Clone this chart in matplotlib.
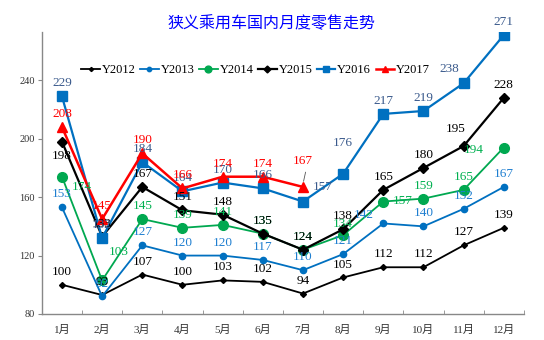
import matplotlib
matplotlib.use("Agg")
import matplotlib.pyplot as plt

months = ["1月", "2月", "3月", "4月", "5月", "6月", "7月", "8月", "9月", "10月", "11月", "12月"]
y2012 = [100, 93, 107, 100, 103, 102, 94, 105, 112, 112, 127, 139]
y2013 = [153, 92, 127, 120, 120, 117, 110, 121, 142, 140, 152, 167]
y2014 = [174, 103, 145, 139, 141, 135, 124, 134, 157, 159, 165, 194]
y2015 = [198, 133, 167, 151, 148, 135, 124, 138, 165, 180, 195, 228]
y2016 = [229, 132, 184, 164, 170, 166, 157, 176, 217, 219, 238, 271]
y2017 = [208, 145, 190, 166, 174, 174, 167]
yticks = [80, 120, 160, 200, 240]

plt.rcParams['font.family'] = ['Liberation Serif', 'Noto Sans CJK SC']

fig = plt.figure(figsize=(5.44, 3.40), dpi=100)
ax = fig.add_axes([0.077, 0.0765, 0.886, 0.829])

x = list(range(len(months)))

series = [
    # name, values, line colour, marker, marker size, line width, label colour, label offsets
    ("Y2012", y2012, "#000000", "D", 3.0, 1.3, "#000000", {}),
    ("Y2013", y2013, "#0070C0", "o", 4.5, 1.3, "#1F7FD0", {8: (-14, 2)}),
    ("Y2014", y2014, "#00A850", "o", 7.0, 1.3, "#00B050",
     {0: (14, -12), 1: (12, 16), 7: (0, 4), 8: (14, -4), 11: (-22, -6)}),
    ("Y2015", y2015, "#000000", "D", 5.0, 1.6, "#000000",
     {0: (0, -15), 10: (-6, 8)}),
    ("Y2016", y2016, "#0070C0", "s", 6.5, 1.6, "#3A5A8C",
     {6: (14, 6), 7: (0, 18), 10: (-10, 6)}),
    ("Y2017", y2017, "#FF0000", "^", 6.5, 1.8, "#FF0000", {6: (0, 14)}),
]

for name, vals, col, mk, ms, lw, lcol, offs in series:
    xs = x[:len(vals)]
    ax.plot(xs, vals, color=col, marker=mk, markersize=ms, linewidth=lw,
            markeredgecolor=col, label=name, zorder=3)
    for i, v in zip(xs, vals):
        dx, dy = offs.get(i, (0, 5))
        ax.annotate(str(v), (i, v), xytext=(dx, dy), textcoords="offset points",
                    ha="center", va="bottom", fontsize=9.5, color=lcol, zorder=4)

# leader line for the last 2017 label
ax.annotate("", xy=(6, y2017[6] + 2), xytext=(6.08, y2017[6] + 12),
            arrowprops=dict(arrowstyle="-", color="#555555", lw=0.6))

ax.set_xlim(-0.5, len(months) - 0.5)
ax.set_ylim(80, 273)
ax.set_yticks(yticks)
ax.set_yticklabels([str(t) for t in yticks], fontsize=7.5, color="#333333")
ax.set_xticks(x)
ax.set_xticklabels(months, fontsize=8, color="#333333")
ax.set_xticks([i - 0.5 for i in range(len(months) + 1)], minor=True)
ax.tick_params(axis="x", which="major", length=0, pad=8)
ax.tick_params(axis="x", which="minor", length=3, direction="in", color="#888888")
ax.tick_params(axis="y", length=3, direction="out", color="#888888", pad=2)

for s in ("top", "right"):
    ax.spines[s].set_visible(False)
for s in ("left", "bottom"):
    ax.spines[s].set_color("#888888")
    ax.spines[s].set_linestyle((0, (1, 1)))
    ax.spines[s].set_linewidth(1.0)

fig.text(0.5, 0.93, "狭义乘用车国内月度零售走势", ha="center", va="center",
         fontsize=11.5, color="#0000FF", family=['Noto Sans CJK SC', 'DejaVu Sans'])

fig.legend(loc="center", bbox_to_anchor=(0.47, 0.794), ncol=6, frameon=False,
           fontsize=9, handlelength=1.5, handletextpad=0.15, columnspacing=0.35,
           markerscale=0.7)

fig.savefig("out.png", dpi=100)
